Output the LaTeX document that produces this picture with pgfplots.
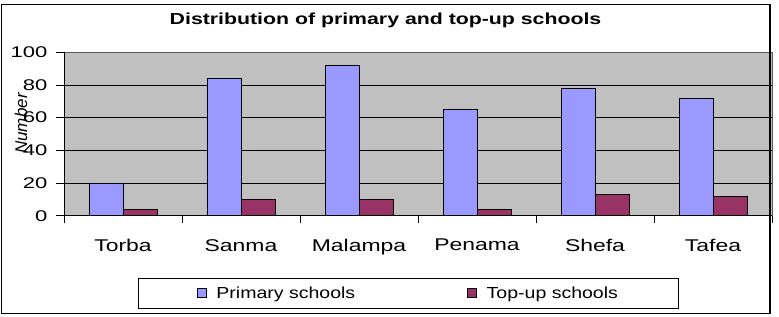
\documentclass[border=0pt]{standalone}
\usepackage{fontspec}
\setmainfont{Liberation Sans}
\newfontfamily\tickfont[FakeStretch=1.42]{Liberation Sans}
\newfontfamily\catfont[FakeStretch=1.35]{Liberation Sans}
\newfontfamily\titlefont[FakeStretch=1.33]{Liberation Sans}
\newfontfamily\legfont[FakeStretch=1.22]{Liberation Sans}
\usepackage{pgfplots}
\pgfplotsset{compat=1.18}
\definecolor{prim}{HTML}{9999FF}
\definecolor{topup}{HTML}{993366}
\definecolor{plotbg}{HTML}{C0C0C0}
\begin{document}
\begin{tikzpicture}
\useasboundingbox (0pt,0pt) rectangle (779pt,316pt);
\begin{axis}[
  at={(64pt,100.3pt)}, anchor=south west,
  scale only axis, width=708pt, height=163.4pt,
  xmin=-0.5, xmax=5.5, ymin=0, ymax=100,
  ybar=0pt, bar width=34pt,
  axis background/.style={fill=plotbg},
  axis line style={draw=gray!70!black, line width=0.8pt},
  ytick={0,20,40,60,80,100},
  ymajorgrids, grid style={black, line width=0.8pt},
  xtick={0,1,2,3,4,5},
  xticklabels={Torba,Sanma,Malampa,Penama,Shefa,Tafea},
  minor xtick={-0.5,0.5,1.5,2.5,3.5,4.5,5.5},
  major x tick style={draw=none},
  minor x tick style={black, line width=0.8pt},
  y tick style={black, line width=0.8pt},
  tick align=outside, major tick length=8pt, minor tick length=7pt,
  xtick pos=bottom, ytick pos=left,
  /pgf/number format/assume math mode=true,
  yticklabel style={font=\tickfont\fontsize{15.5}{18}\selectfont, xshift=-5pt},
  xticklabel style={font=\catfont\fontsize{17}{20}\selectfont, yshift=-12pt},
  legend columns=2,
  legend style={at={(0.4866,-0.4755)}, anchor=center, draw=black, line width=1pt,
    font=\legfont\fontsize{16}{18}\selectfont, inner xsep=59pt, inner ysep=6.5pt,
    /tikz/every even column/.append style={column sep=110pt}},
  legend image code/.code={\draw[#1, draw=black, line width=0.8pt] (0pt,-4.5pt) rectangle (9pt,4.5pt); \path[draw=none, fill=none] (0pt,0pt) -- (17pt,0pt);},
]
\addplot[fill=prim, draw=black, line width=0.9pt] coordinates {(0,20) (1,84) (2,92) (3,65) (4,78) (5,72)};
\addplot[fill=topup, draw=black, line width=0.9pt] coordinates {(0,4) (1,10) (2,10) (3,4) (4,13) (5,12)};
\legend{Primary schools, Top-up schools}
\draw[black, line width=0.9pt] (rel axis cs:0,0) -- (rel axis cs:1,0);
\draw[black, line width=0.9pt] (rel axis cs:0,0) -- (rel axis cs:0,1);
\end{axis}
\node[font=\titlefont\bfseries\fontsize{16}{18}\selectfont] at (385.5pt,296pt) {Distribution of primary and top-up schools};
\node[rotate=90, font=\itshape\fontsize{17}{19}\selectfont] at (21pt,192.5pt) {Number};
\draw[black, line width=1.3pt] (1.5pt,311.5pt) rectangle (770pt,2.5pt);
\end{tikzpicture}
\end{document}
